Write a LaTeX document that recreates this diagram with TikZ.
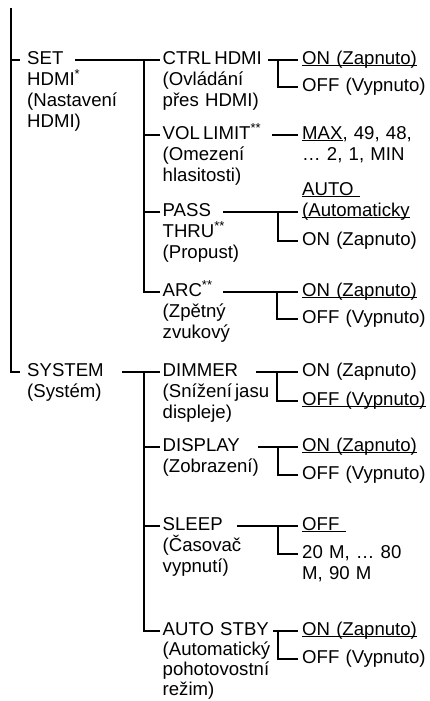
\documentclass[tikz,border=0pt]{standalone}
\usepackage{fontspec}
\setmainfont{Liberation Sans}
\usetikzlibrary{arrows.meta}
\newcommand{\undr}[1]{\leavevmode\setbox0\hbox{#1}\rlap{\rule[-2.3pt]{\wd0}{0.9pt}}\box0}
\tikzset{item/.style={anchor=base west, inner xsep=#1, inner ysep=0pt, text width=125pt, align=left,
    font=\fontsize{18.6}{21}\selectfont},
  elbow/.style={to path={|- (\tikztotarget)}}
}

\begin{document}
\begin{tikzpicture}[x=1pt,y=-1pt]
  \useasboundingbox (0,0) rectangle (429,701);
  % first level
  \begin{scope}[every node/.style={item=7pt}]
    \node (SET) at (20,64) {SET\\HDMI\textsuperscript{*}\\(Nastavení\\HDMI)};
    \node (SYS) at (20,376) {SYSTEM\\(Systém)};
  \end{scope}
  % second level
  \begin{scope}[every node/.style={item=2.5pt}]
    \node (CTRL) at (160,64) {CTRL\,HDMI\\(Ovládání\\přes HDMI)};
    \node (VOL) at (160,139) {VOL\,LIMIT\textsuperscript{**}\\(Omezení\\hlasitosti)};
    \node (PASS) at (160,216) {PASS\\THRU\textsuperscript{**}\\(Propust)};
    \node (ARC) at (160,296) {ARC\textsuperscript{**}\\(Zpětný\\zvukový};
    \node (DIM) at (160,376) {DIMMER\\(Snížení\,jasu\\displeje)};
    \node (DISP) at (160,451) {DISPLAY\\(Zobrazení)};
    \node (SLP) at (160,530) {SLEEP\\(Časovač\\vypnutí)};
    \node[font=\fontsize{18.6}{20.3}\selectfont] (STBY) at (160,635) {AUTO STBY\\(Automatický\\pohotovostní\\režim)};
  \end{scope}
  % values
  \begin{scope}[every node/.style={item=4.5pt}]
    \node (CTRL1) at (297.5,64) {\undr{ON (Zapnuto)}};
    \node (CTRL2) at (297.5,91) {OFF (Vypnuto)};
    \node (VOL1) at (297.5,139) {\undr{MAX}, 49, 48,\\… 2, 1, MIN};
    \node (PASS1) at (297.5,195) {\undr{AUTO\ }\\\undr{(Automaticky}};
    \node (PASS2) at (297.5,245) {ON (Zapnuto)};
    \node (ARC1) at (297.5,296) {\undr{ON (Zapnuto)}};
    \node (ARC2) at (297.5,323) {OFF (Vypnuto)};
    \node (DIM1) at (297.5,376) {ON (Zapnuto)};
    \node (DIM2) at (297.5,405) {\undr{OFF (Vypnuto)}};
    \node (DISP1) at (297.5,451) {\undr{ON (Zapnuto)}};
    \node (DISP2) at (297.5,479) {OFF (Vypnuto)};
    \node (SLP1) at (297.5,530) {\undr{OFF\ }};
    \node (SLP2) at (297.5,558) {20 M, … 80\\M, 90 M};
    \node (STBY1) at (297.5,635) {\undr{ON (Zapnuto)}};
    \node (STBY2) at (297.5,663) {OFF (Vypnuto)};
  \end{scope}
  \coordinate (TOP) at (11,8);
  \coordinate (SETo) at (75,60);
  \coordinate (HUB1) at (144,60);
  \coordinate (SYSo) at (122,372);
  \coordinate (HUB2) at (144,372);
  \coordinate (CTRLo) at (268,60);
  \coordinate (CTRLf) at (278,60);
  \coordinate (VOLo) at (272,135);
  \coordinate (PASSo) at (223,212);
  \coordinate (PASSf) at (278,212);
  \coordinate (ARCo) at (223,292);
  \coordinate (ARCf) at (277,292);
  \coordinate (DIMo) at (256,372);
  \coordinate (DIMf) at (277,372);
  \coordinate (DISPo) at (258,447);
  \coordinate (DISPf) at (278,447);
  \coordinate (SLPo) at (237,526);
  \coordinate (SLPf) at (278,526);
  \coordinate (STBYo) at (273,631);
  \coordinate (STBYf) at (278,631);
  \begin{scope}[every edge/.style={draw=black,line width=2pt}]
    \path [-] (TOP) edge[elbow] ([yshift=4pt]SYS.base west);
    \path [-] ([yshift=4pt]SET.base west) edge +(-9,0);
    \path [-] (SETo) edge ([yshift=4pt]CTRL.base west);
    \path [-] (HUB1) edge[elbow] ([yshift=4pt]ARC.base west);
    \path [-] ([yshift=4pt]VOL.base west) edge +(-16,0);
    \path [-] ([yshift=4pt]PASS.base west) edge +(-16,0);
    \path [-] (SYSo) edge ([yshift=4pt]DIM.base west);
    \path [-] (HUB2) edge[elbow] ([yshift=4pt]STBY.base west);
    \path [-] ([yshift=4pt]DISP.base west) edge +(-16,0);
    \path [-] ([yshift=4pt]SLP.base west) edge +(-16,0);
    % values
    \path [-] (CTRLo) edge ([yshift=4pt]CTRL1.base west);
    \path [-] (CTRLf) edge[elbow] ([yshift=4pt]CTRL2.base west);
    \path [-] (VOLo) edge ([yshift=4pt]VOL1.base west);
    \path [-] (PASSo) edge ([yshift=-17pt]PASS1.base west);
    \path [-] (PASSf) edge[elbow] ([yshift=4pt]PASS2.base west);
    \path [-] (ARCo) edge ([yshift=4pt]ARC1.base west);
    \path [-] (ARCf) edge[elbow] ([yshift=4pt]ARC2.base west);
    \path [-] (DIMo) edge ([yshift=4pt]DIM1.base west);
    \path [-] (DIMf) edge[elbow] ([yshift=4pt]DIM2.base west);
    \path [-] (DISPo) edge ([yshift=4pt]DISP1.base west);
    \path [-] (DISPf) edge[elbow] ([yshift=4pt]DISP2.base west);
    \path [-] (SLPo) edge ([yshift=4pt]SLP1.base west);
    \path [-] (SLPf) edge[elbow] ([yshift=4pt]SLP2.base west);
    \path [-] (STBYo) edge ([yshift=4pt]STBY1.base west);
    \path [-] (STBYf) edge[elbow] ([yshift=4pt]STBY2.base west);
  \end{scope}
\end{tikzpicture}
\end{document}
